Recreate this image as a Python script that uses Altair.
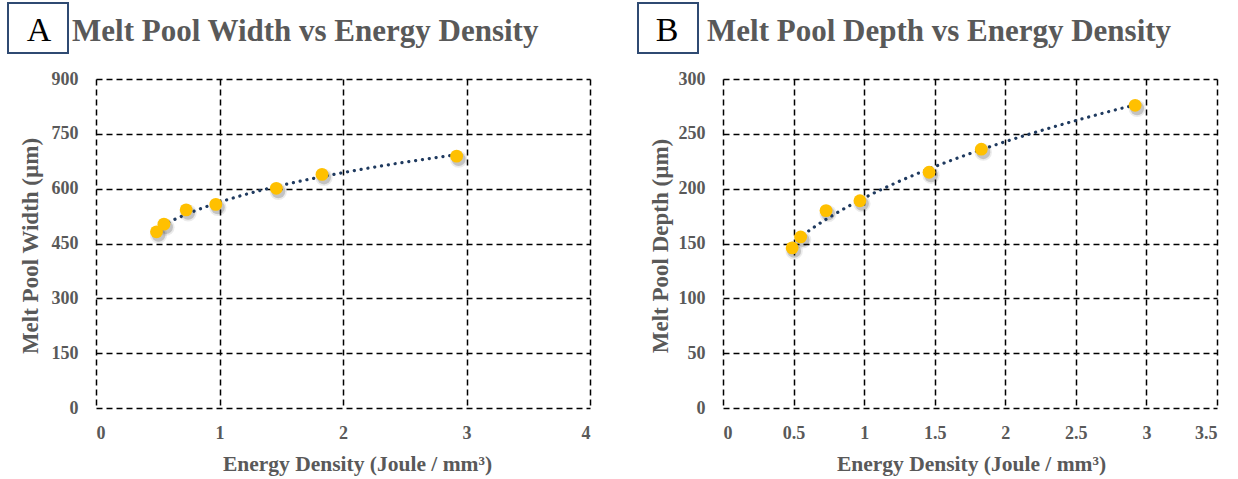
import altair as alt
import pandas as pd

# Measured melt pool geometry against laser energy density
energy_density = [0.49, 0.55, 0.73, 0.97, 1.46, 1.83, 2.92]
pool_width = [482, 503, 542, 557, 601, 639, 689]
pool_depth = [146, 156, 180, 189, 215, 236, 276]

width_ticks = [0, 150, 300, 450, 600, 750, 900]
depth_ticks = [0, 50, 100, 150, 200, 250, 300]
width_x_ticks = [0, 1, 2, 3, 4]
depth_x_ticks = [0, 0.5, 1, 1.5, 2, 2.5, 3, 3.5]

FONT = "Liberation Serif"
GREY = "#595959"
GOLD = "#FFC000"
NAVY = "#1F3A5F"
BOX = "#2F4A72"
W, H = 494, 329


def panel(letter, title, y_title, y_values, y_ticks, x_ticks,
          box_x, letter_x, title_x, ytitle_x, xtitle_x):
    df = pd.DataFrame({"x": energy_density, "y": y_values})
    base = alt.Chart(df)

    x_enc = alt.X(
        "x:Q",
        scale=alt.Scale(domain=[x_ticks[0], x_ticks[-1]], nice=False, zero=False),
        axis=alt.Axis(
            values=x_ticks, format=".1~f",
            title="Energy Density (Joule / mm³)",
            titleX=xtitle_x, titleY=62, titleBaseline="alphabetic",
            titleAlign="center",
        ),
    )
    y_enc = alt.Y(
        "y:Q",
        scale=alt.Scale(domain=[y_ticks[0], y_ticks[-1]], nice=False),
        axis=alt.Axis(
            values=y_ticks, title=y_title,
            titleX=ytitle_x, titleY=H / 2 + 2, titleBaseline="alphabetic",
            titleAngle=270, titleAlign="center",
        ),
    )

    shadow_outer = base.mark_circle(
        color="#000000", opacity=0.08, size=300, xOffset=2, yOffset=3
    ).encode(x=x_enc, y=y_enc)
    shadow_inner = base.mark_circle(
        color="#000000", opacity=0.17, size=195, xOffset=2, yOffset=3
    ).encode(x=x_enc, y=y_enc)
    dots = base.mark_circle(color=GOLD, opacity=1, size=165).encode(x=x_enc, y=y_enc)

    trend = base.transform_regression(
        "x", "y", method="pow"
    ).mark_line(
        color=NAVY, strokeWidth=3.2, strokeDash=[0.1, 6.8], strokeCap="round"
    ).encode(x="x:Q", y="y:Q")

    label = pd.DataFrame({"letter": [letter], "title": [title]})
    box = alt.Chart(label).mark_rect(
        fill="white", stroke=BOX, strokeWidth=2
    ).encode(
        x=alt.value(box_x), x2=alt.value(box_x + 60),
        y=alt.value(-76), y2=alt.value(-26),
    )
    letter_mark = alt.Chart(label).mark_text(
        font=FONT, fontSize=34, color="#000000", align="center",
        baseline="alphabetic",
    ).encode(x=alt.value(letter_x), y=alt.value(-38), text="letter:N")
    title_mark = alt.Chart(label).mark_text(
        font=FONT, fontSize=31, fontWeight="bold", color=GREY, align="left",
        baseline="alphabetic",
    ).encode(x=alt.value(title_x), y=alt.value(-38), text="title:N")

    return alt.layer(
        shadow_outer, shadow_inner, trend, dots, box, letter_mark, title_mark
    ).properties(width=W, height=H)


chart_a = panel("A", "Melt Pool Width vs Energy Density", "Melt Pool Width (µm)",
                pool_width, width_ticks, width_x_ticks,
                box_x=-88, letter_x=-57, title_x=-24, ytitle_x=-59, xtitle_x=261)
chart_b = panel("B", "Melt Pool Depth vs Energy Density", "Melt Pool Depth (µm)",
                pool_depth, depth_ticks, depth_x_ticks,
                box_x=-85, letter_x=-56, title_x=-16, ytitle_x=-56, xtitle_x=248)

chart = alt.hconcat(chart_a, chart_b, spacing=133, bounds="flush").properties(
    padding={"left": 7, "top": 2, "right": 5, "bottom": 2}
).configure_view(
    strokeOpacity=0
).configure_axis(
    grid=True, gridColor="#000000", gridDash=[6, 4], gridWidth=1.5, gridOpacity=1,
    domain=False, ticks=False,
    labelFont=FONT, labelFontSize=18, labelFontWeight="bold", labelColor=GREY,
    titleFont=FONT, titleFontWeight="bold", titleColor=GREY,
).configure_axisY(
    labelPadding=18, titleFontSize=23
).configure_axisX(
    labelPadding=16, titleFontSize=21.5
)

chart.save("out.html", embed_options={"renderer": "svg", "actions": False})
